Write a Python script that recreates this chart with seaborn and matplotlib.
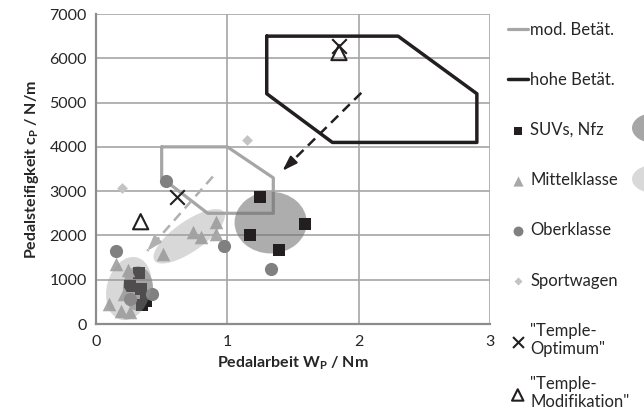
import matplotlib
matplotlib.use("Agg")
import matplotlib.pyplot as plt
from matplotlib.patches import Ellipse
from matplotlib.transforms import Affine2D
import seaborn as sns

# ---- data ----
# operating ranges (polygons)
mod_x = [0.5, 1.0, 1.35, 1.35, 0.85, 0.5, 0.5]
mod_y = [4000, 4000, 3300, 2500, 2500, 3300, 4000]
hohe_x = [1.3, 2.3, 2.9, 2.9, 1.8, 1.3, 1.3]
hohe_y = [6500, 6500, 5200, 4100, 4100, 5200, 6500]

# vehicle classes
suv_x = [1.25, 1.17, 1.59, 1.39, 0.33, 0.26, 0.34, 0.35, 0.38]
suv_y = [2870, 2010, 2260, 1670, 1150, 860, 780, 440, 520]
mittel_x = [0.51, 0.74, 0.80, 0.91, 0.91, 0.155, 0.24, 0.21, 0.10, 0.19, 0.26]
mittel_y = [1580, 2080, 1960, 2310, 2030, 1350, 1230, 670, 450, 300, 260]
ober_x = [0.53, 0.975, 1.335, 0.155, 0.43, 0.26]
ober_y = [3235, 1760, 1235, 1640, 680, 560]
sport_x = [0.20, 1.15]
sport_y = [3060, 4150]
opt_x = [0.62, 1.85]
opt_y = [2860, 6280]
modif_x = [0.34, 1.85]
modif_y = [2310, 6130]

# dashed arrows: start, end
arrow_hohe = [(2.02, 5220), (1.42, 3460)]
arrow_mod = [(0.89, 3330), (0.39, 1650)]

# cluster ellipses: centre x, centre y, length / width (x units as seen), angle
suv_ell = [(1.33, 2290, 0.55, 0.47, 0), (0.32, 800, 0.34, 0.23, 90)]
mittel_ell = [(0.71, 1980, 0.645, 0.23, 35), (0.25, 800, 0.49, 0.335, 75)]

x_ticks = [0, 1, 2, 3]
y_ticks = [0, 1000, 2000, 3000, 4000, 5000, 6000, 7000]

# ---- style ----
sns.set_style("white")
plt.rcParams['font.family'] = ['Lato', 'DejaVu Sans']
plt.rcParams['mathtext.fontset'] = 'custom'
plt.rcParams['mathtext.rm'] = 'Lato'
plt.rcParams['mathtext.bf'] = 'Lato:bold'

BLACK = '#231f20'
GRID = '#a6a6a6'

fig = plt.figure(figsize=(6.44, 4.18), dpi=100)
ax_pos = [96 / 644, (418 - 324) / 418, 394 / 644, 310 / 418]
ax = fig.add_axes(ax_pos)
ax.set_xlim(0, 3)
ax.set_ylim(0, 7000)

# ratio between y and x data units that look equally long on screen
r = (7000 / (ax_pos[3] * 418)) / (3 / (ax_pos[2] * 644))
vis = Affine2D().scale(1, r) + ax.transData

ax.set_xticks(x_ticks)
ax.set_yticks(y_ticks)
ax.grid(True, color=GRID, lw=1.2, zorder=0)
ax.set_axisbelow(True)
for s in ['top', 'right']:
    ax.spines[s].set_visible(False)
for s in ['left', 'bottom']:
    ax.spines[s].set_color('#8c8c8c')
    ax.spines[s].set_linewidth(1.6)
ax.tick_params(axis='y', direction='inout', length=7, color='#8c8c8c', labelsize=11.5, pad=3)
ax.tick_params(axis='x', direction='out', length=4, color='#8c8c8c', labelsize=11.5, pad=4)

# polygons
ax.plot(mod_x, mod_y, color=GRID, lw=2.3, zorder=2, label='mod. Betät.')
ax.plot(hohe_x, hohe_y, color=BLACK, lw=2.5, zorder=2, label='hohe Betät.')

# dashed arrows
for (p0, p1), col in [(arrow_hohe, BLACK), (arrow_mod, '#b0b0b0')]:
    ax.plot([p0[0], p1[0]], [p0[1], p1[1]], color=col, lw=1.8, ls=(0, (4, 2.5)), zorder=2)
    back = (p1[0] + 0.12 * (p0[0] - p1[0]), p1[1] + 0.12 * (p0[1] - p1[1]))
    ax.annotate('', xy=p1, xytext=back,
                arrowprops=dict(arrowstyle='-|>,head_length=0.9,head_width=0.3',
                                color=col, lw=1.5, shrinkA=0, shrinkB=0), zorder=3)

# dark ellipses (SUV clusters)
for cx, cy, w, h, a in suv_ell:
    ax.add_patch(Ellipse((cx, cy / r), w, h, angle=a, transform=vis,
                         facecolor='#6e6e6e', alpha=0.56, lw=0, zorder=3))

# points
kw = dict(ax=ax, legend=False, zorder=4)
sns.scatterplot(x=suv_x, y=suv_y, marker='s', s=68, color=BLACK, linewidth=0, label='SUVs, Nfz', **kw)
sns.scatterplot(x=mittel_x, y=mittel_y, marker='^', s=95, color='#a8a8a8', linewidth=0, label='Mittelklasse', **kw)
sns.scatterplot(x=ober_x, y=ober_y, marker='o', s=90, color='#808080', linewidth=0, label='Oberklasse', **kw)
sns.scatterplot(x=sport_x, y=sport_y, marker='D', s=30, color='#c3c3c3', linewidth=0, label='Sportwagen', **kw)
sns.scatterplot(x=opt_x, y=opt_y, marker='x', s=110, color=BLACK, linewidth=1.5, label='"Temple-\nOptimum"', **kw)
sns.scatterplot(x=modif_x, y=modif_y, marker='^', s=120, facecolor='none', edgecolor=BLACK,
                linewidth=1.5, label='"Temple-\nModifikation"', **kw)

# light ellipses (Mittelklasse clusters), translucent over the points
for cx, cy, w, h, a in mittel_ell:
    ax.add_patch(Ellipse((cx, cy / r), w, h, angle=a, transform=vis,
                         facecolor='#9a9a9a', alpha=0.38, lw=0, zorder=5))

ax.set_xlabel(r'Pedalarbeit W$_\mathbf{P}$ / Nm', fontsize=11.5, fontweight='bold', labelpad=4)
ax.set_ylabel(r'Pedalsteifigkeit c$_\mathbf{P}$ / N/m', fontsize=11.5, fontweight='bold', labelpad=6)

handles, labels = ax.get_legend_handles_labels()
leg_kw = dict(frameon=False, fontsize=12, handlelength=1.2, handletextpad=0.15,
              markerscale=0.75, borderaxespad=0, borderpad=0)
leg1 = ax.legend(handles[:-1], labels[:-1], loc='upper left', bbox_to_anchor=(1.045, 0.975),
                 labelspacing=2.05, **leg_kw)
ax.add_artist(leg1)
ax.legend(handles[-1:], labels[-1:], loc='center left', bbox_to_anchor=(1.045, -0.222), **leg_kw)

# ellipse symbols cut off at the right edge
fig.add_artist(Ellipse((654 / 644, 1 - 128 / 418), 44 / 644, 30 / 418,
                       transform=fig.transFigure, facecolor='#a6a6a6', lw=0))
fig.add_artist(Ellipse((654 / 644, 1 - 179 / 418), 44 / 644, 28 / 418,
                       transform=fig.transFigure, facecolor='#d9d9d9', lw=0))

fig.savefig('out.png', dpi=100)
